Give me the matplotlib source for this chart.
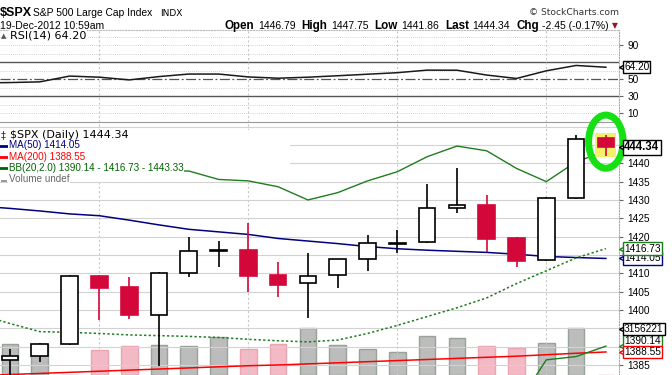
import matplotlib
matplotlib.use("Agg")
import matplotlib.pyplot as plt
import numpy as np
from datetime import date
from matplotlib.patches import Rectangle, Ellipse
from matplotlib.lines import Line2D

plt.rcParams['font.family'] = ['Liberation Sans', 'DejaVu Sans']

# daily candles 20-Nov-2012 .. 19-Dec-2012 (no 22-Nov, Thanksgiving)
dates = ['2012-11-20', '2012-11-21', '2012-11-23', '2012-11-26', '2012-11-27',
         '2012-11-28', '2012-11-29', '2012-11-30', '2012-12-03', '2012-12-04',
         '2012-12-05', '2012-12-06', '2012-12-07', '2012-12-10', '2012-12-11',
         '2012-12-12', '2012-12-13', '2012-12-14', '2012-12-17', '2012-12-18',
         '2012-12-19']
opens = [1386.3, 1387.4, 1390.6, 1409.3, 1406.3, 1398.5, 1410.0, 1416.0, 1416.4, 1409.5,
         1407.3, 1409.5, 1413.8, 1418.1, 1418.5, 1427.7, 1428.6, 1419.6, 1413.5, 1430.5,
         1446.79]
highs = [1389.4, 1391.1, 1409.5, 1409.6, 1409.1, 1410.4, 1420.0, 1418.9, 1423.6, 1413.0,
         1415.5, 1414.0, 1420.4, 1421.8, 1434.4, 1438.6, 1431.3, 1419.8, 1430.8, 1447.7,
         1447.75]
lows = [1381.0, 1385.9, 1390.4, 1397.3, 1397.6, 1384.7, 1408.9, 1411.6, 1404.9, 1403.5,
        1397.9, 1405.9, 1410.7, 1415.6, 1418.3, 1426.5, 1415.8, 1411.8, 1413.3, 1430.3,
        1441.86]
closes = [1387.4, 1390.7, 1409.3, 1406.1, 1398.7, 1410.0, 1416.0, 1416.3, 1409.4, 1406.8,
          1409.3, 1413.8, 1418.2, 1418.4, 1427.7, 1428.5, 1419.4, 1413.4, 1430.5, 1446.6,
          1444.34]
volume = [2.07e6, 2.07e6, 0, 1.69e6, 1.96e6, 2.03e6, 1.96e6, 2.55e6, 1.76e6, 2.10e6,
          3.15e6, 2.0e6, 1.76e6, 1.55e6, 2.62e6, 2.48e6, 1.96e6, 1.83e6, 2.16e6, 3156221,
          0]

# indicators, first value = the trading day before the window
rsi = [45.7, 46.2, 47.0, 53.8, 52.5, 49.3, 53.2, 56.2, 56.2, 52.8, 51.3,
       52.5, 54.2, 56.0, 57.8, 60.8, 60.7, 55.0, 51.0, 60.0, 66.3, 64.20]
ma50 = [1428.3, 1427.7, 1427.0, 1426.2, 1425.7, 1424.5, 1423.2, 1422.0, 1421.3, 1420.6, 1419.5,
        1418.8, 1418.1, 1417.3, 1416.7, 1416.3, 1416.0, 1415.7, 1415.2, 1414.6, 1414.3, 1414.05]
ma200 = [1382.1, 1382.4, 1382.7, 1383.0, 1383.3, 1383.6, 1383.9, 1384.2, 1384.5, 1384.8, 1385.0,
         1385.3, 1385.6, 1385.9, 1386.2, 1386.5, 1386.8, 1387.1, 1387.4, 1387.8, 1388.2, 1388.55]
bb_up = [1438.6, 1438.6, 1438.8, 1438.7, 1438.4, 1438.0, 1437.8, 1437.9, 1435.6, 1435.2, 1433.6,
         1430.0, 1432.0, 1435.2, 1437.7, 1441.8, 1444.7, 1443.4, 1438.6, 1435.0, 1440.4, 1443.33]
bb_mid = [1398.7, 1396.3, 1394.1, 1393.9, 1393.6, 1393.2, 1393.0, 1392.8, 1392.5, 1392.0, 1391.6,
          1391.3, 1391.8, 1393.6, 1395.8, 1398.2, 1400.6, 1403.3, 1407.2, 1410.7, 1414.2, 1416.73]
bb_low = [1372.0, 1372.5, 1373.0, 1373.2, 1373.5, 1373.6, 1373.8, 1374.0, 1374.0, 1374.2, 1374.3,
          1374.4, 1374.5, 1374.5, 1374.4, 1374.3, 1374.2, 1374.1, 1374.0, 1386.4, 1387.3, 1390.14]

W, H = 672, 375
RED = '#d4073a'
GREEN = '#1e7d1e'
NAVY = '#000080'

n = len(closes)
idx = np.arange(n)
ind_x = np.arange(-1, n)
mondays = [i for i, d in enumerate(dates) if date.fromisoformat(d).weekday() == 0]
xlim = (-0.336, 20.44)

fig = plt.figure(figsize=(W / 100, H / 100), dpi=100)
right = 619 / W
main_h = 1 - 122 / H
rsi_ax = fig.add_axes([0, main_h, right, 92 / H])
vol_ax = fig.add_axes([0, 0, right, main_h], zorder=0)
ax = fig.add_axes([0, 0, right, main_h], zorder=1)
ax.patch.set_visible(False)

# ---------------- RSI panel
rsi_ax.set_xlim(*xlim)
rsi_ax.set_ylim(-0.2, 108)
for lvl in range(10, 101, 10):
    if lvl in (30, 70):
        rsi_ax.axhline(lvl, color='#555555', lw=1.0, zorder=1)
    elif lvl == 50:
        rsi_ax.axhline(lvl, color='#555555', lw=0.9, ls=(0, (8, 2, 1.5, 2)), zorder=1)
    else:
        rsi_ax.axhline(lvl, color='#c4c4c4', lw=0.6, ls=(0, (1, 1.5)), zorder=1)
rsi_ax.plot(ind_x, rsi, color='#1a1a1a', lw=1.1, zorder=3)
rsi_ax.set_xticks(mondays)
rsi_ax.grid(axis='x', color='#c8c8c8', lw=0.8, ls=(0, (2, 2)))
rsi_ax.set_yticks([10, 30, 50, 90])
rsi_ax.yaxis.tick_right()
rsi_ax.tick_params(axis='y', length=3, width=0.8, color='#666666', labelsize=7.3, pad=3)
rsi_ax.tick_params(axis='x', length=0, labelbottom=False)
for s in ('left', 'bottom'):
    rsi_ax.spines[s].set_visible(False)
rsi_ax.spines['top'].set_color('#bbbbbb')
rsi_ax.spines['top'].set_linestyle((0, (1, 1.5)))
rsi_ax.spines['right'].set_color('#aaaaaa')
rsi_ax.spines['right'].set_linestyle((0, (1, 1.5)))

# ---------------- volume (behind price)
vol_ax.set_xlim(*xlim)
vol_ax.set_ylim(0, 17.1e6)
vcols = ['#bcbcbc' if c >= o else '#f3b9c5' for o, c in zip(opens, closes)]
vedges = ['#98a298' if c >= o else '#e8a6b3' for o, c in zip(opens, closes)]
vol_ax.bar(idx, volume, width=0.56, color=vcols, edgecolor=vedges, lw=1.0)
vol_ax.axis('off')

# ---------------- price panel
ax.set_xlim(*xlim)
ax.set_ylim(1382.27, 1451.26)
ax.set_axisbelow(True)
levels = list(range(1385, 1451, 5))
hidden = {1390, 1395, 1415, 1445, 1450}
ax.set_yticks(levels)
ax.set_yticklabels(['' if v in hidden else str(v) for v in levels])
ax.yaxis.tick_right()
ax.tick_params(axis='y', length=3, width=0.8, color='#666666', labelsize=7.3, pad=3)
ax.set_xticks(mondays)
ax.tick_params(axis='x', length=0, labelbottom=False)
ax.grid(axis='y', color='#d2d2d2', lw=0.8)
ax.grid(axis='x', color='#c8c8c8', lw=0.8, ls=(0, (2, 2)))
for s in ('left', 'bottom'):
    ax.spines[s].set_visible(False)
ax.spines['top'].set_color('#999999')
ax.spines['top'].set_linewidth(0.8)
ax.spines['right'].set_color('#aaaaaa')
ax.spines['right'].set_linestyle((0, (1, 1.5)))

# white legend area
ax.add_patch(Rectangle((0, 1 - 180 / H), 290 / W, 50 / H, transform=fig.transFigure,
                       fc='white', ec='none', zorder=1))

ax.plot(ind_x, ma200, color='#ff0000', lw=1.1, zorder=2)
ax.plot(ind_x, ma50, color=NAVY, lw=1.1, zorder=2)
ax.plot(ind_x, bb_up, color=GREEN, lw=1.0, zorder=2)
ax.plot(ind_x, bb_low, color=GREEN, lw=1.0, zorder=2)
ax.plot(ind_x, bb_mid, color=GREEN, lw=1.1, ls=(0, (1.5, 1.5)), zorder=2)

# highlight behind today's candle
ax.add_patch(Rectangle((n - 1 - 0.35, 1441.8), 0.7, 6.4, fc='#f4ef6c', ec='none', zorder=2.5))

for i in range(n):
    up = closes[i] >= opens[i]
    col = 'black' if up else RED
    ax.vlines(i, lows[i], highs[i], color=col, lw=1.2, zorder=3)
    lo, hi = min(opens[i], closes[i]), max(opens[i], closes[i])
    ax.add_patch(Rectangle((i - 0.28, lo), 0.56, hi - lo, fc='white' if up else RED,
                           ec=col, lw=1.2, zorder=4))

# hand drawn circle round the last candle
ax.add_patch(Ellipse((n - 1, 1445.9), 1.16, 14.5, fill=False, ec='#14e014', lw=5,
                     clip_on=False, zorder=6))


def tag(a, y, text, color, bold=False, size=7.3, label_y=None):
    tr = a.get_yaxis_transform()
    ly = y if label_y is None else label_y
    a.plot([1.0 + 2.5 / 619], [y], marker='<', ms=5, mfc='white', mec=color, mew=1,
           transform=tr, clip_on=False, zorder=7)
    a.text(1.0 + 5 / 619, ly, text, transform=tr, ha='left', va='center', fontsize=size,
           fontweight='bold' if bold else 'normal', color='black', zorder=8, clip_on=False,
           bbox=dict(boxstyle='square,pad=0.12', fc='white', ec=color, lw=1))


tag(rsi_ax, rsi[-1], '%.2f' % rsi[-1], 'black')
tag(ax, bb_low[-1], '%.2f' % bb_low[-1], GREEN, label_y=1391.5)
tag(ax, ma200[-1], '%.2f' % ma200[-1], '#ff0000')
tag(ax, 1394.8, '3156221', 'black')
tag(ax, ma50[-1], '%.2f' % ma50[-1], NAVY)
tag(ax, bb_mid[-1], '%.2f' % bb_mid[-1], GREEN)
tag(ax, closes[-1], '444.34', 'black', bold=True, size=8.3)

# ---------------- header
def fx(x):
    return x / W


def fy(y):
    return 1 - y / H


fig.text(fx(0), fy(13), '$SPX', fontsize=9, fontweight='bold', va='center')
fig.text(fx(33), fy(13), 'S&P 500 Large Cap Index', fontsize=7.4, va='center')
fig.text(fx(160), fy(13), 'INDX', fontsize=6.5, family='DejaVu Sans', va='center')
fig.text(fx(0), fy(26), '19-Dec-2012 10:59am', fontsize=7.5, va='center')
fig.text(fx(619), fy(12.5), '\u00a9 StockCharts.com', fontsize=6.6, family='DejaVu Sans',
         ha='right', va='center', color='#333333')

pieces = [('Open', True), ('1446.79', False), ('High', True), ('1447.75', False),
          ('Low', True), ('1441.86', False), ('Last', True), ('1444.34', False),
          ('Chg', True), ('-2.45 (-0.17%)', False)]
fig.canvas.draw()
rend = fig.canvas.get_renderer()
xpos = 225
for s, b in pieces:
    t = fig.text(fx(xpos), fy(26), s, fontsize=8.4 if b else 7.5,
                 fontweight='bold' if b else 'normal', va='center')
    bb = t.get_window_extent(renderer=rend)
    xpos = bb.x1 + (3.5 if b else 6)
fig.text(fx(612), fy(26), '\u25bc', fontsize=5.5, family='DejaVu Sans', color='#99102a',
         va='center')

# panel legends
wb = dict(fc='white', ec='none', pad=0.6)
fig.text(fx(1), fy(36), '\u25b2', fontsize=5, family='DejaVu Sans', color='#555555', va='center')
fig.text(fx(10), fy(36), 'RSI(14) %.2f' % rsi[-1], fontsize=8, family='DejaVu Sans',
         va='center', bbox=wb)

fig.text(fx(1), fy(135.5), '\u2021', fontsize=7, family='DejaVu Sans', color='#333333', va='center')
fig.text(fx(10), fy(135.5), '$SPX (Daily) %.2f' % closes[-1], fontsize=8,
         family='DejaVu Sans', va='center', bbox=wb)
rows = [(145.5, 'MA(50) %.2f' % ma50[-1], NAVY),
        (156.5, 'MA(200) %.2f' % ma200[-1], '#ff0000'),
        (168, 'BB(20,2.0) %.2f - %.2f - %.2f' % (bb_low[-1], bb_mid[-1], bb_up[-1]), '#006400')]
for y, s, c in rows:
    fig.add_artist(Line2D([fx(0), fx(7)], [fy(y), fy(y)], color=c, lw=2))
    fig.text(fx(9), fy(y), s, fontsize=7.1, color=c, va='center', bbox=wb)
fig.add_artist(Rectangle((fx(1), fy(182)), 6 / W, 6 / H, transform=fig.transFigure,
                         fc='#999999', ec='none'))
fig.text(fx(9), fy(178.5), 'Volume undef', fontsize=7.1, color='#666666', va='center', bbox=wb)

fig.savefig('out.png', dpi=100)
